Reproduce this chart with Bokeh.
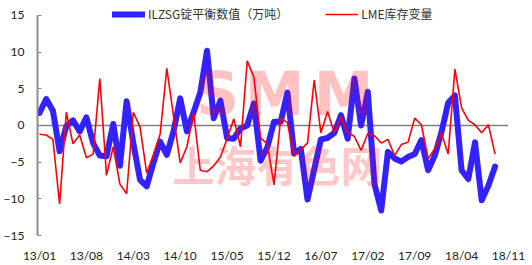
from bokeh.plotting import figure
from bokeh.models import Range1d, FixedTicker, Legend, LegendItem, Span, Label, ColumnDataSource
from bokeh.embed import file_html
from bokeh.resources import INLINE

# ---- data (monthly, 2013/01 .. 2018/09) ----
tick_positions = [0, 7, 14, 21, 28, 35, 42, 49, 56, 63, 70]
tick_labels = ["13/01", "13/08", "14/03", "14/10", "15/05", "15/12",
               "16/07", "17/02", "17/09", "18/04", "18/11"]

ilzsg = [1.7, 3.6, 2.0, -3.5, -0.1, 0.7, -0.8, 1.1, -2.4, -4.1,
         -4.2, 0.2, -5.5, 3.3, -2.4, -7.4, -8.3, -5.1, -2.2, -4.0,
         -0.8, 3.7, -0.8, 1.8, 4.5, 10.2, 1.0, 3.4, -1.7, -1.8,
         -0.4, 0.0, 3.0, -4.8, -3.0, 0.5, 0.5, 4.5, -3.8, -3.2,
         -10.1, -6.0, -1.9, -1.7, -1.0, 1.4, -1.8, 6.4, 0.0, 4.6,
         -8.0, -11.6, -3.6, -4.5, -4.9, -4.3, -3.9, -2.0, -6.1, -4.1,
         -0.9, 3.1, 4.1, -6.1, -7.3, -2.3, -10.2, -8.2, -5.6]

lme = [-1.2, -1.3, -1.9, -10.7, 1.8, -2.5, -1.3, -4.4, -3.9, 6.4,
       -6.8, -2.9, -8.0, -9.3, 1.8, -0.2, -6.5, -4.0, -1.2, 7.8,
       1.3, -5.1, -2.9, 1.7, -6.1, -6.3, -5.5, -4.3, -1.8, 0.9,
       -2.9, 8.8, 6.6, -1.7, -2.5, -8.1, 1.0, 0.4, -4.2, -3.3,
       -2.4, 6.2, -1.0, 1.9, -1.0, 1.1, -0.9, -1.5, -3.4, -1.1,
       -1.4, -2.4, -1.9, -4.1, -2.6, -2.3, 1.0, 0.1, -4.5, -3.2,
       -1.1, -3.9, 7.7, 2.4, 0.7, 0.1, -1.0, 0.1, -3.9]

months = list(range(len(ilzsg)))

src = ColumnDataSource(dict(m=months, ilzsg=ilzsg, lme=lme))

p = figure(width=532, height=265, output_backend="svg", toolbar_location=None,
           x_range=Range1d(-0.3, 70.0), y_range=Range1d(-15, 16.63),
           min_border_left=30, min_border_right=24, min_border_top=3,
           min_border_bottom=29)
p.outline_line_color = None
p.xgrid.visible = False
p.ygrid.visible = False
p.background_fill_color = "white"
p.border_fill_color = "white"

# y axis
p.yaxis.ticker = FixedTicker(ticks=[-15, -10, -5, 0, 5, 10, 15])
p.yaxis.bounds = (-15, 15)
p.yaxis.axis_line_color = "#8c8c8c"
p.yaxis.axis_line_width = 2
p.yaxis.major_tick_line_color = "#8c8c8c"
p.yaxis.major_tick_in = 4
p.yaxis.major_tick_out = 0
p.yaxis.minor_tick_line_color = None
p.yaxis.major_label_standoff = 13
p.yaxis.major_label_text_font = "Lato"
p.yaxis.major_label_text_font_size = "12px"
p.yaxis.major_label_text_color = "#222222"

# x axis (labels only at the bottom; axis line drawn at zero)
p.xaxis.ticker = FixedTicker(ticks=tick_positions)
p.xaxis.major_label_overrides = {t: l for t, l in zip(tick_positions, tick_labels)}
p.xaxis.axis_line_color = None
p.xaxis.major_tick_line_color = None
p.xaxis.major_tick_out = 0
p.xaxis.major_tick_in = 0
p.xaxis.minor_tick_line_color = None
p.xaxis.minor_tick_out = 0
p.xaxis.major_label_standoff = 12
p.xaxis.major_label_text_font = "Lato"
p.xaxis.major_label_text_font_size = "12px"
p.xaxis.major_label_text_color = "#222222"

zero = Span(location=0, dimension="width", line_color="#808080", line_width=1.3)
zero.level = "underlay"
p.add_layout(zero)

r_blue = p.line("m", "ilzsg", source=src, line_color="#3322ff", line_width=6,
                line_join="round", line_cap="round")
r_red = p.line("m", "lme", source=src, line_color="#ff0000", line_width=1.6)

# watermark
wm_style = dict(x_units="screen", y_units="screen", text_color="#ff0000",
                text_alpha=0.24, text_baseline="middle", text_align="center",
                text_font_style="bold")
for ch, xs in zip(["S", "M", "M"], [180, 237, 306]):
    p.add_layout(Label(x=xs, y=142, text=ch, text_font="DejaVu Sans",
                       text_font_size="60px", **wm_style))
p.add_layout(Label(x=240, y=72, text="上海有色网", text_font="Noto Sans CJK SC",
                   text_font_size="42px", **wm_style))

legend = Legend(items=[LegendItem(label="ILZSG锭平衡数值（万吨）", renderers=[r_blue]),
                       LegendItem(label="LME库存变量", renderers=[r_red])],
                location=(75, 213), orientation="horizontal",
                border_line_color=None, background_fill_alpha=0,
                padding=0, margin=0, spacing=37, label_standoff=3,
                glyph_width=33, glyph_height=16, label_height=16,
                label_text_font="Noto Sans CJK SC", label_text_font_size="12px",
                label_text_color="#333333")
p.add_layout(legend)

open("out.html", "w").write(file_html(p, INLINE))
